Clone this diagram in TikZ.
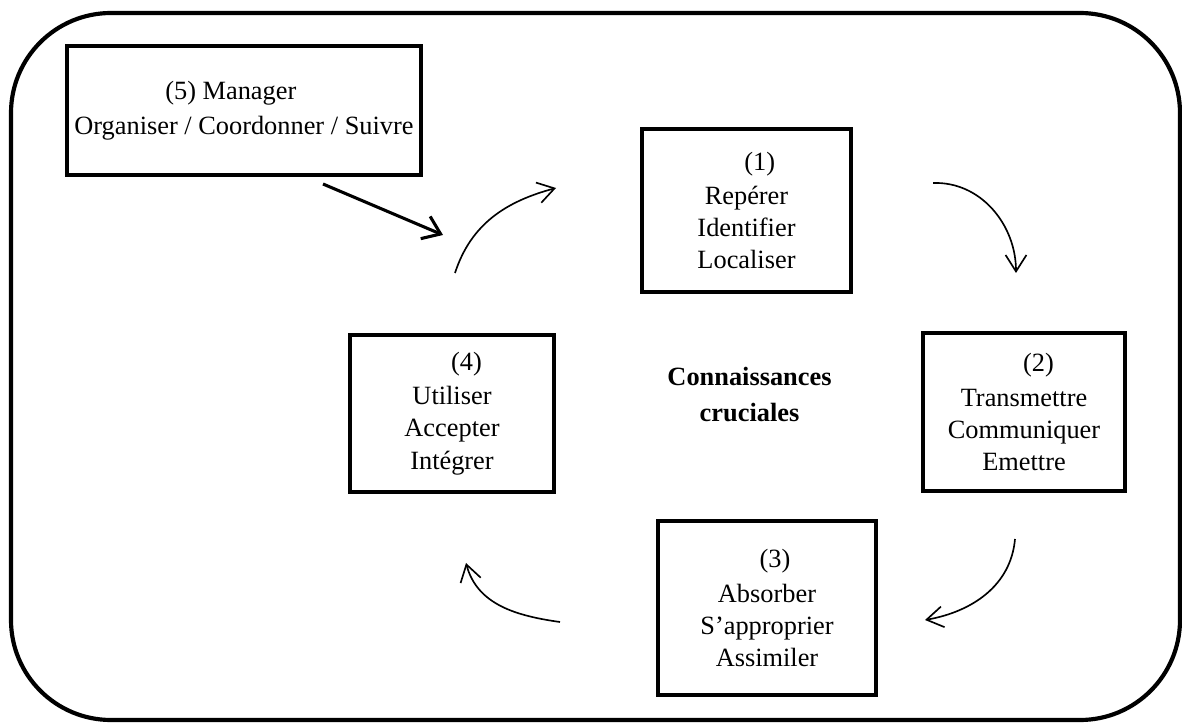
\documentclass[tikz,border=0pt]{standalone}
\usepackage{fontspec}
\setmainfont{Liberation Serif}
\usetikzlibrary{arrows.meta}
\tikzset{
	etape/.style={draw, line width=1.8pt, align=center, inner sep=0pt, font=\fontsize{12}{14.6}\selectfont},
	fleche/.style={line width=0.75pt, -{Straight Barb[length=7.5pt, width=9.5pt]}},
	cadre/.style={line width=1.9pt, rounded corners=1.6cm}
}

\begin{document}
\begin{tikzpicture}
			%%%%% START %%%%%
			
			\useasboundingbox (0, 0) rectangle (18.912, 11.552);
			
			\draw[cadre] (0.176, 0.032) rectangle (18.88, 11.344);
			
			\node[etape, font=\fontsize{12}{16}\selectfont, minimum width=5.664cm, minimum height=2.064cm] (manager) at (3.904, 9.784) {(5) Manager\hspace*{1em}\\Organiser / Coordonner / Suivre};
			
			\node[etape, minimum width=3.344cm, minimum height=2.608cm] (reperer) at (11.944, 8.184) {\hspace*{1em}(1)\\[1pt]Repérer\\Identifier\\Localiser};
			\node[etape, minimum width=3.232cm, minimum height=2.528cm] (transmettre) at (16.384, 4.96) {\hspace*{1.1em}(2)\\[1pt]Transmettre\\Communiquer\\Emettre};
			\node[etape, minimum width=3.488cm, minimum height=2.784cm] (absorber) at (12.272, 1.824) {\hspace*{0.6em}(3)\\[1pt]Absorber\\S’approprier\\Assimiler};
			\node[etape, minimum width=3.264cm, minimum height=2.512cm] (utiliser) at (7.232, 4.936) {\hspace*{1.1em}(4)\\[1pt]Utiliser\\Accepter\\Intégrer};
			
			\node[align=center, font=\fontsize{12}{16}\selectfont\bfseries] (crucial) at (11.992, 5.24) {Connaissances\\cruciales};
			
			% le cycle
			\coordinate (a1) at (7.28, 7.184);
			\coordinate (b1) at (8.896, 8.544);
			\coordinate (a2) at (14.928, 8.624);
			\coordinate (b2) at (16.256, 7.184);
			\coordinate (a3) at (16.24, 2.928);
			\coordinate (b3) at (14.8, 1.632);
			\coordinate (a4) at (8.96, 1.6);
			\coordinate (b4) at (7.456, 2.544);
			
			\draw[fleche] (a1) to[out=72, in=195] (b1);
			\draw[fleche] (a2) to[out=2, in=90] (b2);
			\draw[fleche] (a3) to[out=-95, in=10] (b3);
			\draw[fleche] (a4) to[out=172, in=-75] (b4);
			
			% le manager
			\coordinate (m1) at (5.168, 8.608);
			\coordinate (m2) at (7.088, 7.792);
			\draw[line width=1.4pt, -{Straight Barb[length=7.5pt, width=11pt]}] (m1) -- (m2);
			
			%%%%% END %%%%%
		\end{tikzpicture}
\end{document}
